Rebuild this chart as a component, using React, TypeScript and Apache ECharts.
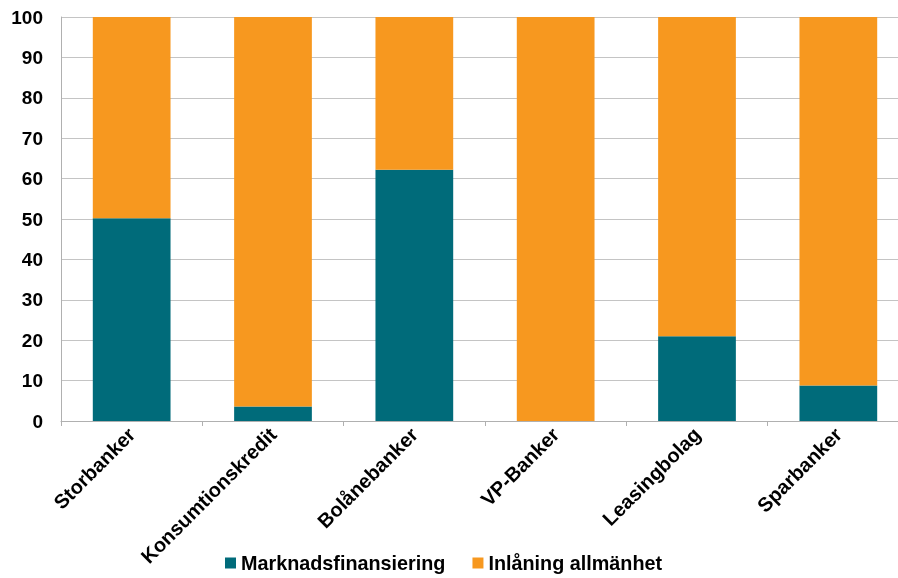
import React, { useEffect, useRef } from "react";
import * as echarts from "echarts";

const categories = ["Storbanker", "Konsumtionskredit", "Bolånebanker", "VP-Banker", "Leasingbolag", "Sparbanker"];
const marknadsfinansiering = [50.2, 3.6, 62.2, 0, 21.0, 8.8];
const inlaning = [49.8, 96.4, 37.8, 100, 79.0, 91.2];
const seriesNames = ["Marknadsfinansiering", "Inlåning allmänhet"];

export default function App() {
  const ref = useRef<HTMLDivElement>(null);
  useEffect(() => {
    const chart = echarts.init(ref.current!, null, { renderer: "svg" });
    const font = "Liberation Sans, Arial, sans-serif";
    chart.setOption({
      animation: false,
      textStyle: { fontFamily: font },
      grid: { left: 61, top: 17, height: 404, width: 848, containLabel: false },
      legend: {
        top: 553,
        left: 225,
        padding: 0,
        itemWidth: 11,
        itemHeight: 11,
        itemGap: 27,
        icon: "rect",
        textStyle: { fontSize: 19.8, fontWeight: "bold", color: "#000", fontFamily: font },
        data: seriesNames,
      },
      xAxis: {
        type: "category",
        data: categories,
        axisLine: { lineStyle: { color: "#b0b0b0", width: 1 } },
        axisTick: { show: true, length: 5, lineStyle: { color: "#b0b0b0" } },
        axisLabel: { rotate: 45, fontSize: 20, fontWeight: "bold", color: "#000", margin: 10, fontFamily: font, interval: 0 },
      },
      yAxis: {
        type: "value",
        min: 0,
        max: 100,
        interval: 10,
        axisLine: { show: true, lineStyle: { color: "#b0b0b0", width: 1 } },
        axisTick: { show: false },
        splitLine: { lineStyle: { color: "#c4c4c4", width: 1 } },
        axisLabel: { fontSize: 19, fontWeight: "bold", color: "#000", margin: 18, fontFamily: font },
      },
      series: [
        {
          name: seriesNames[0],
          type: "bar",
          stack: "total",
          data: marknadsfinansiering,
          barWidth: "55%",
          itemStyle: { color: "#006b7a" },
        },
        {
          name: seriesNames[1],
          type: "bar",
          stack: "total",
          data: inlaning,
          barWidth: "55%",
          itemStyle: { color: "#f7981f" },
        },
      ],
    });
    return () => chart.dispose();
  }, []);
  return (
    <div style={{ position: "fixed", left: 0, top: 0, width: 898, height: 578, overflow: "hidden" }}>
      <div ref={ref} style={{ width: 912, height: 578 }} />
    </div>
  );
}
